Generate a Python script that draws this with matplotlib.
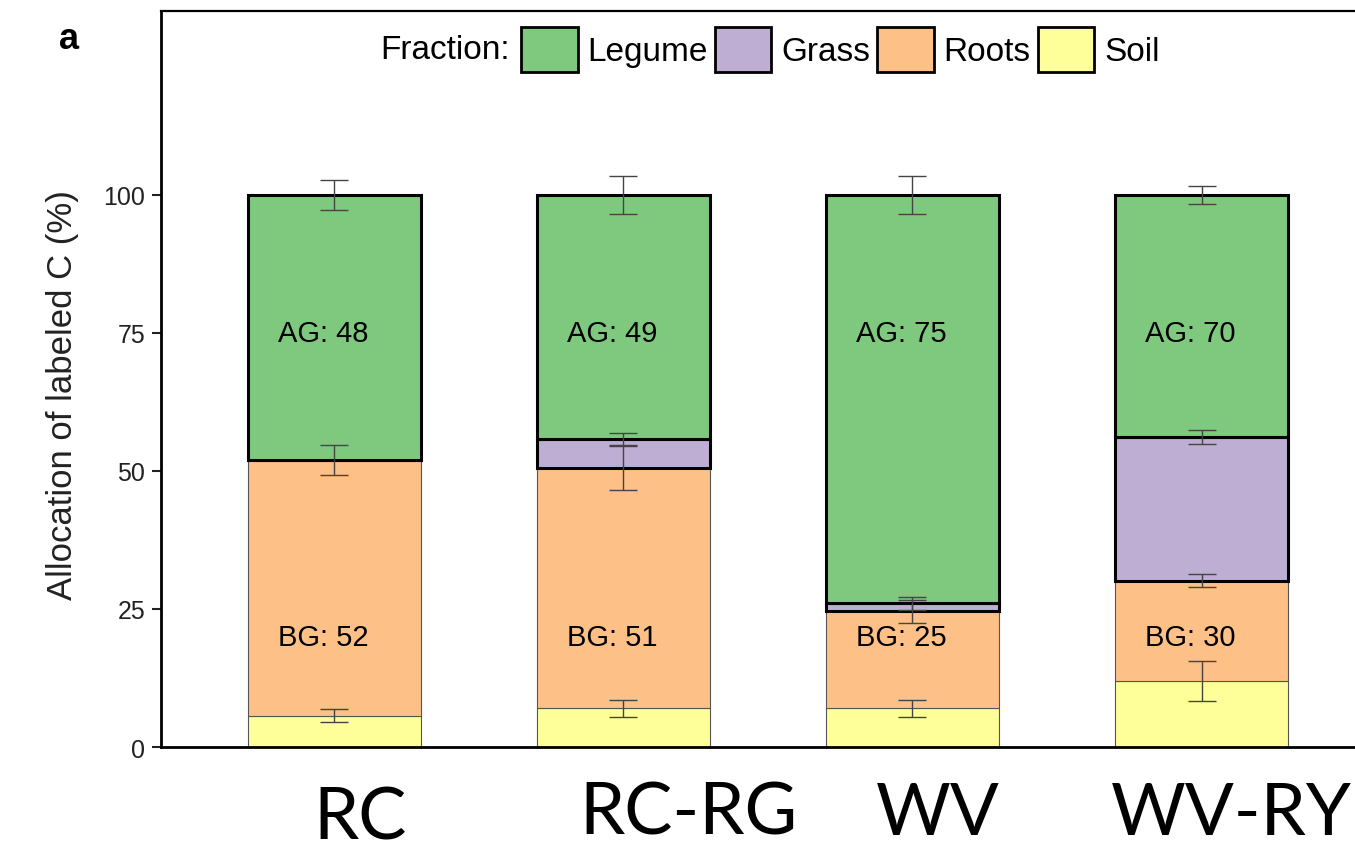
import matplotlib.pyplot as plt
import numpy as np
from matplotlib.patches import Patch

plt.rcParams['font.family'] = ['Liberation Sans', 'DejaVu Sans']

# Data (percent of labeled C)
treatments = ['RC', 'RC-RG', 'WV', 'WV-RY']
soil = [5.7, 7.0, 7.0, 12.0]
roots = [46.3, 43.5, 17.6, 18.1]
grass = [0.0, 5.3, 1.4, 26.0]
legume = [48.0, 44.2, 74.0, 43.9]

soil_err = [1.1, 1.5, 1.6, 3.6]
roots_err = [2.7, 4.0, 2.1, 1.2]
grass_err = [np.nan, 1.1, 1.2, 1.3]
legume_err = [2.7, 3.4, 3.4, 1.6]

ag_labels = ['AG: 48', 'AG: 49', 'AG: 75', 'AG: 70']
bg_labels = ['BG: 52', 'BG: 51', 'BG: 25', 'BG: 30']

COLORS = {
    'Legume': '#7FC97F',
    'Grass': '#BEAED4',
    'Roots': '#FDC086',
    'Soil': '#FFFF99',
}

fig = plt.figure(figsize=(13.55, 8.54), dpi=100)
ax = fig.add_axes([0.1188, 0.1241, 0.8812, 0.8619])

x = np.arange(len(treatments))
w = 0.6
soil = np.array(soil)
roots = np.array(roots)
grass = np.array(grass)
legume = np.array(legume)

b1 = soil
b2 = b1 + roots
b3 = b2 + grass
b4 = b3 + legume

thin = dict(edgecolor='#555555', linewidth=0.8)
thick = dict(edgecolor='black', linewidth=2.2)
ax.bar(x, soil, w, color=COLORS['Soil'], **thin, zorder=2)
ax.bar(x, roots, w, bottom=b1, color=COLORS['Roots'], **thin, zorder=2)
ax.bar(x, grass, w, bottom=b2, color=COLORS['Grass'], **thick, zorder=3)
ax.bar(x, legume, w, bottom=b3, color=COLORS['Legume'], **thick, zorder=3)

# error bars at the top of each fraction
err_kw = dict(fmt='none', ecolor='#444444', elinewidth=1, capsize=10, capthick=1, zorder=5)
ax.errorbar(x, b1, yerr=soil_err, **err_kw)
ax.errorbar(x, b2, yerr=roots_err, **err_kw)
ax.errorbar(x, b3, yerr=grass_err, **err_kw)
ax.errorbar(x, b4, yerr=legume_err, **err_kw)

for xi, ag, bg in zip(x, ag_labels, bg_labels):
    ax.text(xi - 0.04, 75, ag, ha='center', va='center', fontsize=21, zorder=6)
    ax.text(xi - 0.04, 20, bg, ha='center', va='center', fontsize=21, zorder=6)

ax.set_xlim(-0.6, 3.531)
ax.set_ylim(0, 133.3)
ax.set_yticks([0, 25, 50, 75, 100])
ax.set_xticks([])
ax.tick_params(axis='y', labelsize=18, length=6.5, width=1.5, pad=5, colors='#222222')
ax.set_ylabel('Allocation of labeled C (%)', fontsize=25, color='#222222')
ax.yaxis.set_label_coords(-0.0687, 0.48)

for side in ['left', 'bottom']:
    ax.spines[side].set_linewidth(2.0)
ax.spines['top'].set_linewidth(1.6)
ax.spines['right'].set_visible(False)

# legend across the top
handles = [Patch(facecolor=COLORS[k], edgecolor='black', linewidth=2) for k in COLORS]
fig.text(0.376, 0.941, 'Fraction:', ha='right', va='center', fontsize=24)
fig.legend(handles, list(COLORS.keys()), loc='center left',
           bbox_to_anchor=(521 / 1355, 0.941), ncol=4, frameon=False,
           fontsize=24, handlelength=1.7, handleheight=1.7,
           handletextpad=0.3, columnspacing=0.2, borderpad=0, borderaxespad=0)

fig.text(0.051, 0.954, 'a', ha='center', va='center', fontsize=26, fontweight='bold')

# large treatment labels below the axis
label_x = [360, 688, 938, 1231]
label_base = [840, 835, 835, 835]
for t, lx, ly in zip(treatments, label_x, label_base):
    fig.text(lx / 1355, 1 - ly / 854, t, ha='center', va='baseline',
             fontsize=52, family=['Lato', 'DejaVu Sans'])

plt.savefig('out.png', dpi=100, facecolor='white')
